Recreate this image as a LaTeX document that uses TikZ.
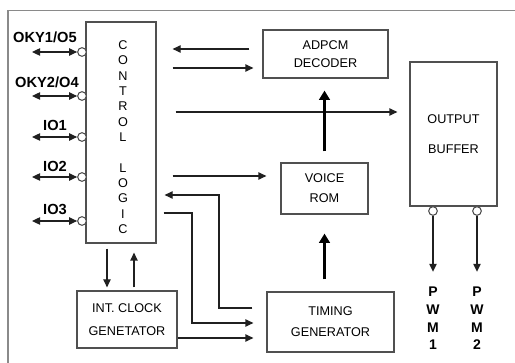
\documentclass[tikz,border=0pt]{standalone}
\usepackage{fontspec}
\setmainfont{Liberation Sans}
\usetikzlibrary{arrows.meta,positioning,calc}
\definecolor{boxgray}{HTML}{505050}
\definecolor{framegray}{HTML}{8A8A8A}
\definecolor{wireblack}{HTML}{202020}

\begin{document}
\begin{tikzpicture}[
    x=0.75pt, y=-0.75pt,
    blockBox/.style={rectangle, draw=boxgray, line width=0.9pt, inner sep=0pt, align=center, font=\fontsize{9.5}{13.5}\selectfont},
    pinLabel/.style={inner sep=0pt, font=\fontsize{11}{13}\selectfont\bfseries},
    pwmLabel/.style={inner sep=0pt, align=center, font=\fontsize{10.5}{13.3}\selectfont\bfseries},
    pinCirc/.style={circle, draw=boxgray, fill=white, line width=0.8pt, inner sep=0pt, minimum size=6.5pt},
    arrowSig/.style={-{Triangle[length=6pt,width=5.5pt]}, line width=0.9pt, draw=wireblack},
    arrowBus/.style={-{Triangle[length=7pt,width=8pt]}, line width=2.2pt, draw=black}
]
    \useasboundingbox (0,0) rectangle (515,363);
    \draw[framegray, line width=1.4pt] (8,363) -- (8,10.5) -- (515,10.5);

    \node[blockBox, minimum width=52.5pt, minimum height=165.75pt] (ctl) at (121,132.5) {};
    \node[inner sep=0pt, align=center, font=\fontsize{9.5}{11.5}\selectfont] (ctltxt) at (123,137)
        {C\\O\\N\\T\\R\\O\\L\\[11.5pt]L\\O\\G\\I\\C};
    \node[blockBox, minimum width=93.75pt, minimum height=36pt] (adpcm) at (325.5,54) {ADPCM\\DECODER};
    \node[blockBox, minimum width=65.25pt, minimum height=108pt] (buf) at (453.5,134) {OUTPUT\\[9pt]BUFFER};
    \node[blockBox, minimum width=65.25pt, minimum height=38.25pt] (voice) at (324.5,188.5) {VOICE\\[1.5pt]ROM};
    \node[blockBox, minimum width=95.25pt, minimum height=45pt] (timing) at (330.5,322) {TIMING\\[2.25pt]GENERATOR};
    \node[blockBox, minimum width=75pt, minimum height=42.75pt] (clk) at (127,319.5) {INT. CLOCK\\[3.5pt]GENETATOR};

    % I/O pins
    \foreach \py/\ly/\lab/\lx [count=\i] in {52/37/{OKY1/O5}/45, 96/82/{OKY2/O4}/47, 137/125/IO1/55, 177/166/IO2/55, 221/209/IO3/55} {
        \node[pinCirc] (pin\i) at (82,\py) {};
        \coordinate (pend\i) at (32,\py);
        \draw[arrowSig, {Triangle[length=6pt,width=5.5pt]}-{Triangle[length=6pt,width=5.5pt]}] (pend\i) -- (pin\i.west);
        \node[pinLabel] (plab\i) at (\lx,\ly) {\lab};
    }

    % control <-> decoder, buffer, rom
    \draw[arrowSig, shorten <=9.75pt, shorten >=12pt] (adpcm.west |- 0,49) -- (ctl.east |- 0,49);
    \draw[arrowSig, shorten <=12pt, shorten >=6.75pt] (ctl.east |- 0,68) -- (adpcm.west |- 0,68);
    \draw[arrowSig, shorten <=14.25pt, shorten >=9pt] (ctl.east |- 0,112) -- (buf.west |- 0,112);
    \draw[arrowSig, shorten <=12pt, shorten >=10.5pt] (ctl.east |- 0,176) -- (voice.west |- 0,176);

    % data path
    \draw[arrowBus, shorten <=8.25pt, shorten >=9pt] (voice.north) -- (voice.north |- adpcm.south);
    \draw[arrowBus, shorten <=9pt, shorten >=14.25pt] (timing.north -| voice.south) -- (voice.south);

    % timing loops
    \coordinate (k1) at (219,195);
    \draw[arrowSig, shorten <=10.5pt, shorten >=6pt] (timing.west |- 0,308) -| (k1) -- (ctl.east |- k1);
    \coordinate (k2) at (192,323);
    \draw[arrowSig, shorten <=5.25pt, shorten >=9.75pt] (ctl.east |- 0,213) -| (k2) -- (timing.west |- k2);
    \draw[arrowSig, shorten >=9.75pt] (clk.east |- 0,338) -- (timing.west |- 0,338);

    % control <-> clock
    \draw[arrowSig, shorten <=3.75pt, shorten >=2.25pt] (ctl.south -| 107,0) -- (clk.north -| 107,0);
    \draw[arrowSig, shorten <=2.25pt, shorten >=6.75pt] (clk.north -| 134,0) -- (ctl.south -| 134,0);

    % PWM outputs
    \foreach \px/\nm [count=\j] in {433/1, 477/2} {
        \node[pinCirc] (opin\j) at (\px,211) {};
        \node[pwmLabel] (pwm\j) at (\px,318.5) {P\\W\\M\\\nm};
        \draw[arrowSig, shorten >=11.25pt] (opin\j.south) -- (pwm\j.north);
    }
\end{tikzpicture}
\end{document}
